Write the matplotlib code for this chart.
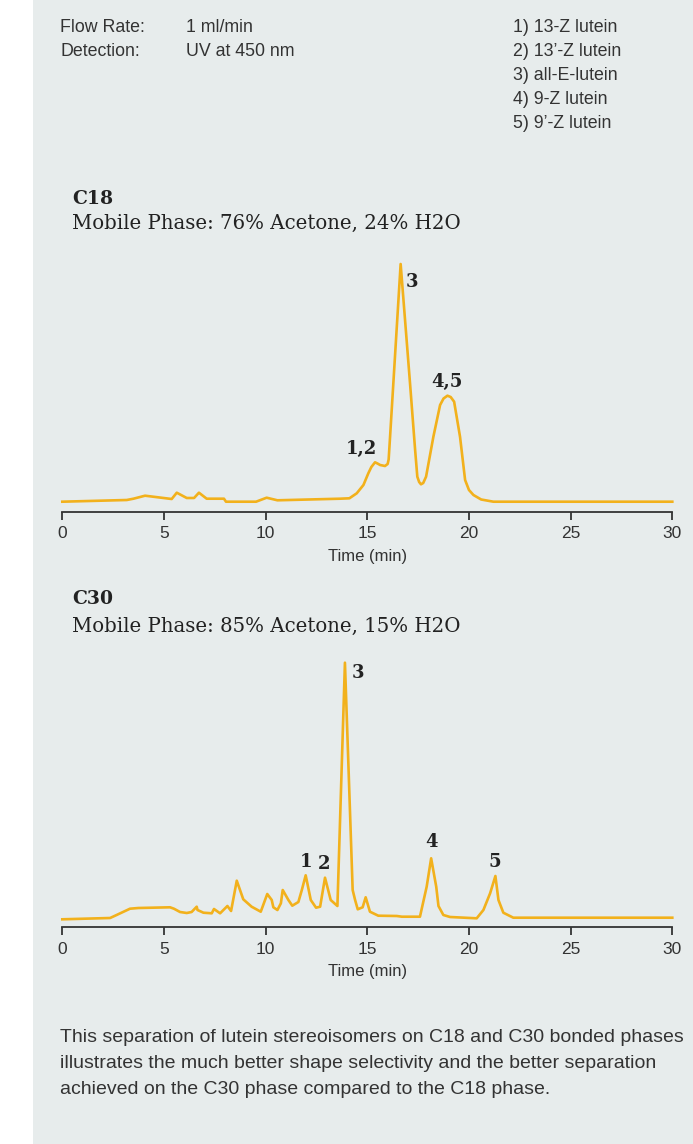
import matplotlib
import matplotlib.pyplot as plt
from matplotlib import font_manager

matplotlib.use('Agg')

## Chromatogram traces: time in min, detector signal in mAU
c18_time = [0, 3.17, 3.5, 4.07, 5.38, 5.63, 6.12, 6.48, 6.72, 7.1, 7.95, 8.05,
            9.53, 10.05, 10.58, 13.66, 14.12, 14.48, 14.81, 15.05, 15.2, 15.38,
            15.5, 15.63, 15.87, 16.0, 16.05, 16.12, 16.64, 17.1, 17.35, 17.46,
            17.55, 17.64, 17.75, 17.89, 18.25, 18.58, 18.75, 18.94, 19.1, 19.27,
            19.56, 19.81, 20.0, 20.22, 20.6, 21.2, 30]
c18_signal = [9.8, 11.5, 12.8, 15.8, 12.5, 18.8, 13.5, 13.5, 18.8, 12.8, 12.8, 9.8,
              9.8, 13.8, 11.2, 12.8, 13.2, 18.2, 26.5, 38.2, 44.5, 49.2,
              48.0, 46.5, 45.5, 47.5, 52.0, 74.8, 247.5, 128.5, 62.0, 34.8,
              29.5, 27.2, 28.5, 34.8, 74.8, 106.5, 113.0, 115.8, 114.5, 109.8,
              74.8, 31.5, 21.5, 16.5, 12.0, 9.8, 9.8]

c30_time = [0, 2.35, 2.67, 3.33, 3.74, 5.3, 5.49, 5.79, 6.12, 6.36, 6.61, 6.65,
            6.94, 7.35, 7.46, 7.76, 8.12, 8.3, 8.58, 8.9, 9.31, 9.76, 10.08,
            10.3, 10.38, 10.58, 10.75, 10.84, 11.12, 11.31, 11.61, 11.78, 11.97,
            12.22, 12.48, 12.68, 12.92, 13.2, 13.53, 13.9, 14.28, 14.4, 14.53,
            14.77, 14.92, 15.13, 15.54, 16.45, 16.7, 17.59, 17.92, 18.14, 18.39,
            18.5, 18.74, 19.07, 20.38, 20.71, 21.04, 21.3, 21.45, 21.69, 22.18, 30]
c30_signal = [7.7, 9.0, 12.0, 18.3, 19.0, 19.7, 18.3, 15.0, 14.0, 15.0, 20.3, 17.0,
              14.3, 13.7, 18.0, 13.7, 21.0, 16.0, 46.3, 27.7, 20.3, 15.3, 33.0,
              27.0, 19.7, 17.0, 23.7, 37.0, 27.0, 21.3, 25.0, 37.0, 51.7,
              27.0, 19.3, 20.3, 49.3, 27.0, 21.0, 264.3, 37.0, 27.0, 17.7,
              19.7, 29.7, 15.3, 11.3, 11.0, 10.3, 10.3, 40.3, 68.7, 40.3,
              21.0, 12.0, 10.0, 8.7, 17.0, 33.7, 51.0, 27.0, 14.3, 9.3, 9.3]

# peak numbers and where they sit (time, signal)
c18_peaks = ["1,2", "3", "4,5"]
c18_peak_pos = [(14.69, 62.5), (17.19, 229.5), (18.94, 129.8)]
c30_peaks = ["1", "2", "3", "4", "5"]
c30_peak_pos = [(11.97, 65.3), (12.89, 63.0), (14.53, 254.3), (18.17, 84.7), (21.28, 65.3)]

ticks = [0, 5, 10, 15, 20, 25, 30]

conditions = [("Flow Rate:", "1 ml/min"), ("Detection:", "UV at 450 nm")]
peak_names = ["1) 13-Z lutein", "2) 13\u2019-Z lutein", "3) all-E-lutein",
              "4) 9-Z lutein", "5) 9\u2019-Z lutein"]
caption = ["This separation of lutein stereoisomers on C18 and C30 bonded phases",
           "illustrates the much better shape selectivity and the better separation",
           "achieved on the C30 phase compared to the C18 phase."]

## Styling
names = {f.name for f in font_manager.fontManager.ttflist}
sans = 'Liberation Sans' if 'Liberation Sans' in names else 'DejaVu Sans'
serif = 'DejaVu Serif'
bg = '#e7ecec'
ink = '#333333'
trace = '#f2b11c'

W, H = 693, 1144
fig = plt.figure(figsize=(W / 100, H / 100), dpi=100)
fig.patch.set_facecolor('white')
# shaded panel, leaving a white strip on the left
fig.patches.append(plt.Rectangle((33 / W, -0.01), 1.02 - 33 / W, 1.02, transform=fig.transFigure,
                                 facecolor=bg, edgecolor='none', zorder=-10))


def px(x, y):
    return x / W, 1 - y / H


# header
for i, (k, v) in enumerate(conditions):
    fig.text(*px(60, 27 + 24 * i), k, family=sans, fontsize=12.8, color=ink, va='center')
    fig.text(*px(186, 27 + 24 * i), v, family=sans, fontsize=12.8, color=ink, va='center')
for i, s in enumerate(peak_names):
    fig.text(*px(513, 28 + 24 * i), s, family=sans, fontsize=12.8, color=ink, va='center')


def chromatogram(axis_y, ytop, time, signal, peaks, peak_pos):
    ax = fig.add_axes([62.3 / W, 1 - axis_y / H, 610 / W, ytop / H])
    ax.set_facecolor('none')
    ax.plot(time, signal, color=trace, lw=1.9, solid_joinstyle='round', clip_on=False)
    ax.set_xlim(0, 30)
    ax.set_ylim(0, ytop)
    for side in ['left', 'right', 'top']:
        ax.spines[side].set_visible(False)
    ax.spines['bottom'].set_color(ink)
    ax.spines['bottom'].set_linewidth(1.3)
    ax.set_yticks([])
    ax.set_xticks(ticks)
    ax.tick_params(axis='x', direction='out', length=5.5, width=1.3, color=ink,
                   labelcolor=ink, labelsize=12.5, pad=5)
    for lab in ax.get_xticklabels():
        lab.set_family(sans)
    ax.set_xlabel("Time (min)", family=sans, fontsize=12, color=ink, labelpad=5.5)
    for s, (t, h) in zip(peaks, peak_pos):
        ax.text(t, h, s, family=serif, fontweight='bold', fontsize=13, color='#222222',
                ha='center', va='center', clip_on=False)
    return ax


fig.text(*px(72, 199), "C18", family=serif, fontweight='bold', fontsize=13.5,
         color='#222222', va='center')
fig.text(*px(72, 223), "Mobile Phase: 76% Acetone, 24% H2O", family=serif,
         fontsize=14.2, color='#222222', va='center')
chromatogram(511.5, 260, c18_time, c18_signal, c18_peaks, c18_peak_pos)

fig.text(*px(72, 599), "C30", family=serif, fontweight='bold', fontsize=13.5,
         color='#222222', va='center')
fig.text(*px(72, 626.5), "Mobile Phase: 85% Acetone, 15% H2O", family=serif,
         fontsize=14.2, color='#222222', va='center')
chromatogram(927, 270, c30_time, c30_signal, c30_peaks, c30_peak_pos)

# caption, one line at a time
for i, line in enumerate(caption):
    fig.text(*px(60, 1037 + 26.4 * i), line, family=sans, fontsize=14, color=ink,
             va='center')

fig.savefig("out.png", dpi=100, facecolor=fig.get_facecolor())
plt.close()
